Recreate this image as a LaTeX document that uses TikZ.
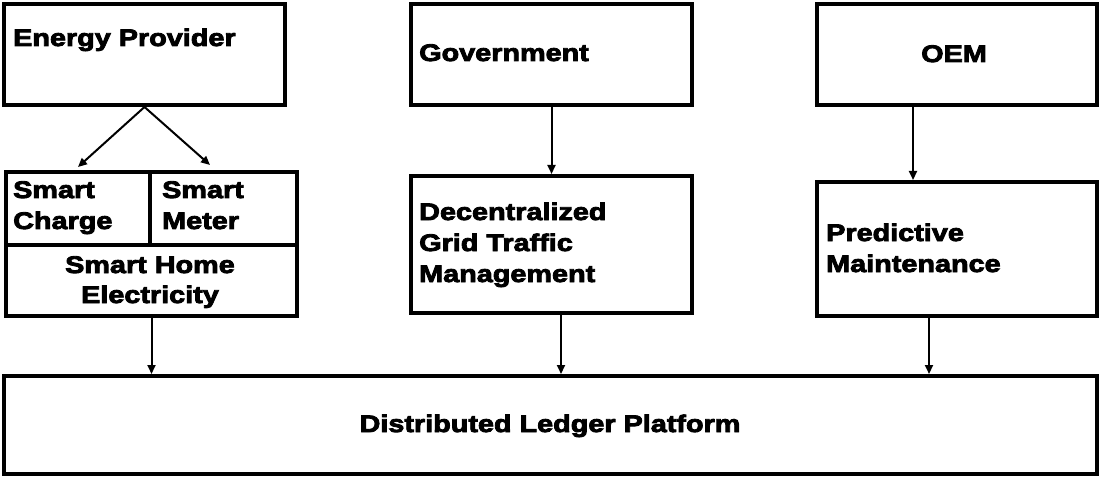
\documentclass[tikz,border=0pt]{standalone}
\usepackage{fontspec}
\setmainfont{Liberation Sans}[BoldFeatures={FakeStretch=1.2,FakeBold=3.5}]
\usetikzlibrary{arrows.meta,calc}
\begin{document}
\begin{tikzpicture}[x=1pt,y=-1pt,
  box/.style={draw,line width=4pt,rectangle,inner sep=0pt,anchor=north west},
  lbl/.style={font=\bfseries\fontsize{24}{31}\selectfont,inner sep=0pt,align=left},
  clbl/.style={font=\bfseries\fontsize{24}{30}\selectfont,inner sep=0pt,align=center},
  arr/.style={line width=2pt,-{Triangle[length=9pt,width=8pt]}}]
\useasboundingbox[fill=white] (0,0) rectangle (1099,478);
% boxes
\node[box,minimum width=281pt,minimum height=101pt] (ep) at (2,2) {};
\node[box,minimum width=144pt,minimum height=73pt] (sc) at (4,170) {};
\node[box,minimum width=147pt,minimum height=73pt] (sm) at (148,170) {};
\node[box,minimum width=291pt,minimum height=71pt] (she) at (4,243) {};
\node[box,minimum width=281pt,minimum height=101pt] (gov) at (409,2) {};
\node[box,minimum width=281pt,minimum height=137pt] (dec) at (409,174) {};
\node[box,minimum width=280pt,minimum height=101pt] (oem) at (815,2) {};
\node[box,minimum width=280pt,minimum height=134pt] (pred) at (815,180) {};
\node[box,minimum width=1093pt,minimum height=98pt] (dlp) at (2,374) {};
% texts
\node[lbl,anchor=base west] (tep) at (13,46) {Energy Provider};
\node[lbl,anchor=base west] (tsc) at (13,229) {Smart\\Charge};
\node[lbl,anchor=base west] (tsm) at (162,229) {Smart\\Meter};
\node[clbl,anchor=base] (tshe) at (150,303) {Smart Home\\Electricity};
\node[lbl,anchor=base west] (tgov) at (419,61) {Government};
\node[lbl,anchor=base west] (tdec) at (419,282) {Decentralized\\Grid Traffic\\Management};
\node[lbl,anchor=base] (toem) at (954,62) {OEM};
\node[lbl,anchor=base west] (tpred) at (826,272) {Predictive\\Maintenance};
\node[lbl,anchor=base] (tdlp) at (550,432) {Distributed Ledger Platform};
% connectors
\coordinate (smt) at ($(sm.north west)+(62,-5)$);
\coordinate (sct) at ($(sc.north)+(0,-3)$);
\draw[arr] (ep.south) -- (sct);
\draw[arr] (ep.south) -- (smt);
\draw[arr] (gov.south) -- (dec.north);
\draw[arr] ($(oem.south west)+(98,0)$) -- ($(pred.north west)+(98,0)$);
\draw[arr] (she.south) -- (she.south |- dlp.north);
\draw[arr] ($(dec.south west)+(152,0)$) -- ($(dlp.north west)+(559,0)$);
\draw[arr] ($(pred.south west)+(114,0)$) -- ($(dlp.north west)+(927,0)$);
\end{tikzpicture}
\end{document}
